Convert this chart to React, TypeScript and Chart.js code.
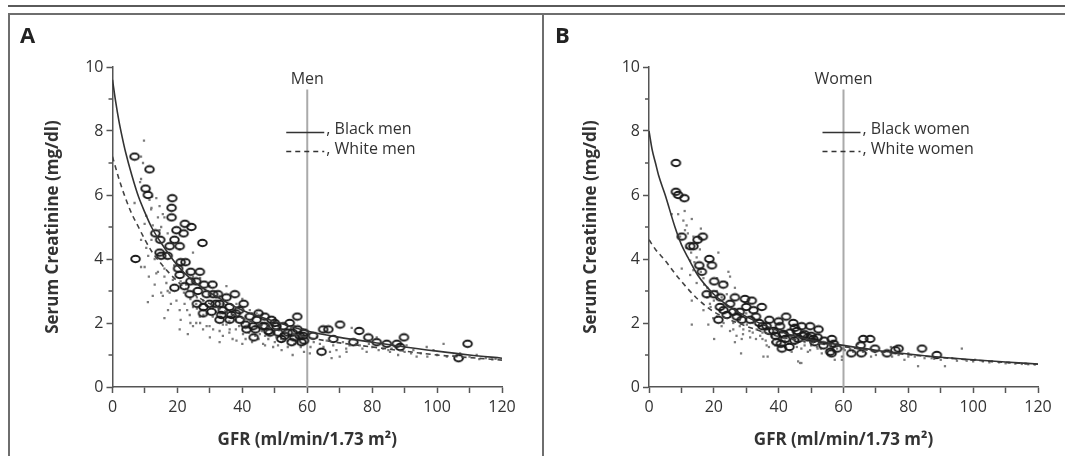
import React, { useEffect, useRef } from "react";
import { Chart, registerables } from "chart.js";
Chart.register(...registerables);

const FONT = "'Open Sans', 'Noto Sans', sans-serif";

const xTickLabels = [0, 20, 40, 60, 80, 100, 120];
const yTickLabels = [0, 2, 4, 6, 8, 10];
const yMinorTicks = [1, 3, 5, 7, 9];
const cutoffGFR = 60;
const cutoffLine: [number, number][] = [[60, 0], [60, 9.3]];

// Panel A — men
const menBlackCurve: [number, number][] = [
  [0, 9.6], [1, 8.9], [2, 8.3], [3, 7.8], [4, 7.35], [6, 6.6], [8, 5.95], [10, 5.45], [12, 5.0],
  [15, 4.5], [20, 3.8], [25, 3.3], [30, 2.95], [40, 2.4], [50, 2.05], [60, 1.75], [70, 1.55],
  [80, 1.4], [90, 1.25], [100, 1.12], [110, 1.0], [120, 0.9],
];
const menWhiteCurve: [number, number][] = [
  [0, 7.2], [2, 6.5], [4, 5.9], [6, 5.4], [8, 5.0], [10, 4.6], [12, 4.25], [15, 3.85], [20, 3.3],
  [25, 2.9], [30, 2.6], [40, 2.15], [50, 1.8], [60, 1.55], [70, 1.38], [80, 1.25], [90, 1.12],
  [100, 1.0], [110, 0.92], [120, 0.84],
];
const menBlackPoints: [number, number][] = [
  [6.8, 7.2], [11.4, 6.8], [10.2, 6.2], [10.9, 6.0], [18.4, 5.9], [18.2, 5.6], [18.2, 5.3], [22.3, 5.1],
  [24.3, 5.0], [19.7, 4.9], [21.9, 4.8], [13.2, 4.8], [14.7, 4.6], [19.1, 4.6], [17.6, 4.4], [20.7, 4.4],
  [27.7, 4.5], [7.1, 4.0], [14.5, 4.2], [15.0, 4.1], [22.5, 3.9], [20.2, 3.7], [24.1, 3.6], [26.9, 3.6],
  [20.7, 3.5], [28.2, 3.2], [30.8, 3.2], [19.1, 3.1], [23.8, 2.9], [26.3, 3.0], [32.5, 2.9], [37.7, 2.9],
  [35.1, 2.8], [40.4, 2.6], [29.9, 2.6], [31.8, 2.6], [27.9, 2.3], [30.5, 2.35], [33.5, 2.25], [36.6, 2.25],
  [33.0, 2.1], [36.1, 2.1], [39.2, 2.1], [42.3, 2.2], [44.4, 2.1], [46.9, 2.2], [49.0, 2.1], [43.3, 1.9],
  [46.4, 1.9], [50.5, 1.9], [52.6, 1.9], [54.6, 2.0], [56.9, 2.2], [55.5, 1.7], [57.7, 1.6], [58.2, 1.4],
  [55.2, 1.4], [43.5, 1.55], [48.5, 1.7], [41.3, 1.8], [25.8, 3.3], [22.2, 3.15], [64.9, 1.8], [66.5, 1.8],
  [70.1, 1.95], [76.0, 1.75], [78.8, 1.55], [89.8, 1.55], [109.4, 1.35], [64.4, 1.1], [68.0, 1.5],
  [74.2, 1.4], [84.5, 1.35], [87.6, 1.35], [88.6, 1.25], [106.6, 0.9], [58.7, 1.6], [61.8, 1.6], [81.4, 1.4],
  [26, 2.6], [28, 2.5], [29, 2.9], [31, 2.9], [34, 2.4], [38, 2.3], [41, 1.95], [44, 1.8], [45, 2.3],
  [47, 1.9], [50, 2.0], [51, 1.7], [53, 1.6], [54, 1.7], [56, 1.55], [57, 1.8], [59, 1.7], [59, 1.45],
  [24, 3.3], [21, 3.9], [17, 4.1], [33, 2.6], [36, 2.5], [39, 2.4], [52, 1.5], [48, 1.75],
];
const menWhitePoints: [number, number][] = [
  [9.7, 7.7], [8.8, 7.2], [9.4, 7.0], [8.8, 6.5], [8.5, 6.4], [11.4, 5.85], [13.5, 5.9], [14.5, 5.65],
  [11.9, 5.55], [15.5, 5.4], [10.4, 5.35], [6.8, 5.75], [9.9, 5.1], [12.4, 5.05], [14.5, 4.9], [8.8, 4.6],
  [10.4, 4.35], [8.8, 3.75], [9.9, 3.75], [11.2, 3.45], [13.5, 3.55], [13.0, 3.2], [16.0, 3.45], [16.6, 3.25],
  [15.0, 2.95], [12.4, 2.85], [10.9, 2.65], [15.5, 2.85], [17.6, 2.95], [17.1, 2.4], [16.0, 2.15], [20.7, 2.4],
  [22.2, 2.6], [23.8, 2.25], [20.7, 1.8], [23.2, 1.65], [25.8, 2.0], [24.8, 2.5], [26.9, 2.2], [29.9, 1.9],
  [33.0, 1.75], [33.0, 1.4], [36.1, 1.8], [38.2, 1.45], [40.2, 1.65], [46.4, 1.35], [49.5, 1.25], [52.1, 1.15],
  [55.5, 1.0], [50.5, 1.55], [52.6, 1.45], [25.8, 2.6], [27.9, 2.7], [19.7, 2.7], [18.6, 3.35], [22.7, 3.2],
  [24.8, 3.45], [29.9, 3.15], [33.0, 2.85], [35.1, 3.15], [38.2, 2.6], [42.3, 2.4], [44.4, 2.3], [40.2, 2.0],
  [35.1, 1.95], [30.9, 2.2], [27.9, 1.8], [24.8, 1.9], [45.4, 1.65], [48.5, 1.85], [53.6, 1.8], [56.7, 1.55],
  [58.7, 1.8], [12.2, 5.95], [14.0, 5.3], [16.0, 5.3], [20.7, 4.3], [24.8, 4.2], [32, 2.35], [34, 1.95],
  [36, 2.05], [38, 1.8], [42, 1.95], [44, 1.6], [46, 1.75], [48, 1.5], [52, 1.65], [54, 1.45], [56, 1.35],
  [58, 1.25], [35, 2.55], [40, 2.75], [45, 2.25], [50, 2.15], [55, 1.85], [28, 2.25], [26, 2.45], [24, 2.75],
  [22, 2.95], [30, 1.55], [40, 1.35], [62, 1.4], [65, 1.25], [68, 1.3], [72, 1.2], [75, 1.35], [80, 1.25],
  [85, 1.15], [90, 1.1], [95, 1.05], [100, 1.0], [105, 0.97], [110, 0.95], [115, 0.9], [118, 0.88],
  [73.7, 1.85], [81.4, 1.55], [102, 1.35], [96.8, 1.25], [92.7, 1.15], [98.9, 1.15], [60.8, 1.05],
  [69, 1.15], [78.3, 1.1], [83.4, 1.2], [72.1, 1.1], [70, 0.95], [67.5, 0.9], [93.7, 0.95], [63.9, 1.35],
  [76.2, 1.3], [85.5, 1.1], [90.6, 1.3], [107.1, 1.05], [112.2, 1.0],
  [16, 3.7], [17, 3.0], [18, 2.6], [19, 3.8], [21, 3.3], [21, 2.1], [23, 3.6], [23, 2.4], [24, 2.0],
  [25, 3.0], [26, 2.8], [27, 2.0], [27, 3.4], [28, 2.6], [29, 2.3], [29, 1.9], [31, 2.5], [31, 1.8],
  [32, 2.8], [33, 2.3], [34, 2.6], [34, 1.6], [35, 2.2], [36, 1.7], [37, 2.4], [37, 1.5], [38, 2.1],
  [39, 1.9], [39, 2.5], [41, 2.2], [41, 1.5], [42, 1.7], [43, 2.3], [43, 1.4], [44, 1.9], [45, 1.5],
  [46, 2.0], [47, 1.6], [47, 1.3], [48, 1.9], [49, 1.7], [50, 1.4], [51, 1.9], [51, 1.3], [52, 1.5],
  [53, 1.7], [54, 1.25], [55, 1.6], [56, 1.9], [57, 1.4], [58, 1.6], [59, 1.35], [59, 1.1], [61, 1.25],
  [63, 1.55], [66, 1.45], [67, 1.1], [71, 1.4], [73, 1.3], [77, 1.2], [79, 1.35], [82, 1.15], [86, 1.2],
  [88, 1.0], [92, 1.05], [97, 0.95], [103, 0.95], [108, 0.9], [113, 0.87], [117, 0.86],
  [12, 4.6], [13, 4.0], [14, 3.6], [11, 4.1], [16, 4.2], [17, 4.8], [15, 5.0], [12, 5.6],
];

// Panel B — women
const womenBlackCurve: [number, number][] = [
  [0, 8.0], [1, 7.4], [2, 7.0], [3, 6.6], [5, 6.0], [8, 5.0], [10, 4.45], [12, 4.05], [15, 3.5],
  [20, 2.9], [25, 2.5], [30, 2.2], [40, 1.75], [50, 1.47], [60, 1.3], [70, 1.15], [80, 1.03],
  [90, 0.93], [100, 0.85], [110, 0.78], [120, 0.72],
];
const womenWhiteCurve: [number, number][] = [
  [0, 4.6], [2, 4.3], [5, 3.95], [8, 3.55], [10, 3.3], [15, 2.75], [20, 2.35], [25, 2.1], [30, 1.9],
  [40, 1.58], [50, 1.4], [60, 1.26], [70, 1.12], [80, 1.01], [90, 0.92], [100, 0.84], [110, 0.77], [120, 0.71],
];
const womenBlackPoints: [number, number][] = [
  [8.3, 7.0], [8.3, 6.1], [9.0, 6.0], [10.9, 5.9], [10.1, 4.7], [15.0, 4.6], [16.6, 4.7], [12.7, 4.4],
  [13.7, 4.4], [18.6, 4.0], [19.4, 3.8], [15.5, 3.8], [16.3, 3.6], [20.1, 3.3], [22.9, 3.2], [17.8, 2.9],
  [26.5, 2.8], [29.6, 2.75], [31.7, 2.7], [34.8, 2.5], [21.9, 2.5], [25.0, 2.6], [24.0, 2.25], [21.4, 2.1],
  [27.1, 2.2], [28.6, 2.1], [31.2, 2.1], [34.0, 2.0], [37.1, 2.1], [42.3, 2.2], [44.5, 2.0], [47.1, 1.9],
  [49.7, 1.9], [52.3, 1.8], [40.4, 1.9], [38.4, 1.75], [41.5, 1.65], [43.5, 1.7], [45.6, 1.75], [47.6, 1.6],
  [39.4, 1.4], [41.0, 1.2], [50.7, 1.5], [53.8, 1.3], [56.4, 1.5], [55.9, 1.1], [36.3, 1.9], [32.2, 2.4],
  [66.1, 1.5], [68.2, 1.5], [65.3, 1.3], [62.4, 1.05], [65.5, 1.05], [69.7, 1.2], [73.4, 1.05], [76.0, 1.15],
  [77.0, 1.2], [84.2, 1.2], [88.8, 1.0], [40.7, 1.35], [44.9, 1.45], [49.0, 1.55], [51.1, 1.4], [41.3, 1.65],
  [43.3, 1.25], [56.3, 1.05],
  [23, 2.4], [26, 2.35], [28, 2.35], [30, 2.5], [33, 2.2], [35, 1.9], [37, 1.75], [39, 1.6], [42, 1.5],
  [46, 1.5], [48, 1.65], [50, 1.6], [52, 1.55], [54, 1.45], [57, 1.35], [58, 1.2], [45, 1.85], [40, 2.05],
  [22, 2.8], [20, 2.9],
];
const womenWhitePoints: [number, number][] = [
  [7.0, 5.4], [9.0, 5.4], [10.6, 5.2], [13.2, 5.25], [11.6, 5.05], [16.0, 4.95], [11.1, 4.9], [13.7, 4.7],
  [21.4, 4.2], [14.7, 4.05], [12.7, 3.95], [10.1, 3.7], [13.7, 3.65], [12.7, 3.5], [16.8, 3.4], [14.7, 3.25],
  [24.5, 3.6], [25.0, 3.45], [13.2, 2.7], [18.8, 2.6], [16.8, 2.4], [19.8, 2.15], [13.2, 1.95], [18.3, 1.95],
  [22.4, 1.9], [25.0, 1.75], [26.5, 1.4], [28.6, 1.5], [31.2, 1.55], [34.3, 1.6], [29.1, 1.8], [33.2, 1.8],
  [26.0, 2.0], [30.2, 1.95], [36.3, 1.3], [35.3, 0.95], [43.5, 1.15], [46.6, 0.75], [45.6, 1.25], [49.7, 1.15],
  [53.3, 1.05], [51.8, 1.25], [57.9, 1.35], [59.5, 0.95], [59.5, 0.85], [20.9, 3.0], [22.4, 2.8], [24.0, 3.25],
  [15.7, 4.3], [11.6, 4.35], [9.6, 4.7], [26.5, 3.1], [35, 1.5], [38, 1.4], [42, 1.45], [45, 1.35], [48, 1.3],
  [52, 1.2], [55, 1.15], [58, 1.2], [32, 1.7], [28, 1.9], [25, 2.2], [22, 2.4], [20, 2.7], [18, 3.1],
  [62, 1.2], [66, 1.1], [70, 1.0], [75, 0.95], [80, 0.95], [85, 0.9], [90, 0.85], [95, 0.82], [100, 0.8],
  [105, 0.77], [110, 0.74], [115, 0.72], [119, 0.7], [28.4, 1.05], [20.1, 1.5], [36.6, 0.95], [46.0, 0.8],
  [47.0, 0.75], [64.5, 1.35], [68.5, 0.95], [74.6, 1.25], [78.8, 0.85], [83.0, 0.65], [91.3, 0.65],
  [96.5, 1.2], [87.2, 0.9], [93.5, 0.9], [100.6, 0.85], [105.8, 0.8], [111.0, 0.76], [116.2, 0.73],
  [80.0, 1.05], [69.7, 1.1], [60.4, 1.15], [57.3, 0.85],
  [14, 3.9], [15, 4.5], [16, 3.6], [17, 3.2], [18, 2.8], [19, 2.5], [21, 2.2], [21, 3.4], [23, 2.0],
  [23, 2.6], [24, 2.9], [26, 1.8], [27, 2.4], [27, 1.6], [28, 2.1], [29, 1.65], [30, 2.3], [31, 1.75],
  [32, 2.0], [33, 1.5], [34, 1.9], [35, 1.7], [36, 1.45], [37, 1.8], [37, 1.25], [38, 1.6], [39, 1.3],
  [40, 1.5], [41, 1.7], [42, 1.25], [43, 1.4], [44, 1.55], [44, 1.1], [46, 1.45], [47, 1.2], [48, 1.4],
  [49, 1.1], [50, 1.3], [51, 1.45], [53, 1.2], [54, 1.35], [56, 1.25], [57, 1.1], [58, 1.3], [60, 1.2],
  [63, 1.1], [65, 1.2], [67, 1.05], [72, 1.1], [77, 1.0], [82, 0.95], [88, 0.88], [98, 0.82], [103, 0.8],
  [108, 0.77], [113, 0.73], [117, 0.71], [12, 4.8], [11, 5.5], [13, 4.2],
];

type PanelCfg = {
  letter: string;
  group: string;
  blackLabel: string;
  whiteLabel: string;
  blackCurve: [number, number][];
  whiteCurve: [number, number][];
  blackPoints: [number, number][];
  whitePoints: [number, number][];
  width: number;
  padLeft: number;
  padRight: number;
  yAxisWidth: number;
};

const CANVAS_H = 441;

function makeRing(): HTMLCanvasElement {
  const c = document.createElement("canvas");
  c.width = 13;
  c.height = 10;
  const g = c.getContext("2d")!;
  g.strokeStyle = "#1a1a1a";
  g.lineWidth = 1.9;
  g.beginPath();
  g.ellipse(6.5, 5, 4.3, 3.2, 0, 0, Math.PI * 2);
  g.stroke();
  return c;
}

const toXY = (arr: [number, number][]) => arr.map(([x, y]) => ({ x, y }));

function Panel({ cfg, left }: { cfg: PanelCfg; left: number }) {
  const ref = useRef<HTMLCanvasElement>(null);
  useEffect(() => {
    const ring = makeRing();
    const overlay = {
      id: "overlay" + cfg.letter,
      afterDraw(chart: any) {
        const { ctx } = chart;
        const xs = chart.scales.x;
        const ys = chart.scales.y;
        const vx = xs.getPixelForValue(cutoffGFR);
        ctx.save();
        // short minor ticks on the y axis
        ctx.strokeStyle = "#555";
        ctx.lineWidth = 1.5;
        for (const v of yMinorTicks) {
          const py = ys.getPixelForValue(v);
          ctx.beginPath();
          ctx.moveTo(ys.right - 4, py);
          ctx.lineTo(ys.right, py);
          ctx.stroke();
        }
        ctx.fillStyle = "#222";
        ctx.textAlign = "left";
        ctx.textBaseline = "alphabetic";
        ctx.font = `bold 22px ${FONT}`;
        ctx.fillText(cfg.letter, 10, 28);
        ctx.fillStyle = "#333";
        ctx.font = `16px ${FONT}`;
        ctx.textAlign = "center";
        ctx.fillText(cfg.group, vx, 69);
        ctx.textAlign = "left";
        ctx.strokeStyle = "#333";
        ctx.lineWidth = 1.5;
        ctx.beginPath();
        ctx.moveTo(vx - 21, 117.5);
        ctx.lineTo(vx + 17, 117.5);
        ctx.stroke();
        ctx.setLineDash([5, 4]);
        ctx.beginPath();
        ctx.moveTo(vx - 21, 136.5);
        ctx.lineTo(vx + 17, 136.5);
        ctx.stroke();
        ctx.setLineDash([]);
        ctx.fillText(", " + cfg.blackLabel, vx + 19, 119);
        ctx.fillText(", " + cfg.whiteLabel, vx + 19, 139);
        ctx.restore();
      },
    };
    const chart = new Chart(ref.current!, {
      type: "scatter",
      data: {
        datasets: [
          {
            type: "line",
            data: toXY(cfg.blackCurve),
            borderColor: "#333",
            borderWidth: 1.6,
            pointRadius: 0,
            cubicInterpolationMode: "monotone",
            fill: false,
          } as any,
          {
            type: "line",
            data: toXY(cfg.whiteCurve),
            borderColor: "#444",
            borderWidth: 1.6,
            borderDash: [5, 4],
            pointRadius: 0,
            cubicInterpolationMode: "monotone",
            fill: false,
          } as any,
          {
            data: toXY(cfg.blackPoints),
            pointStyle: ring,
            pointRadius: 5,
            backgroundColor: "transparent",
            borderColor: "#1a1a1a",
          } as any,
          {
            data: toXY(cfg.whitePoints),
            pointStyle: "rect",
            pointRadius: 1.6,
            backgroundColor: "#7c7c7c",
            borderWidth: 0,
          } as any,
          {
            type: "line",
            data: toXY(cutoffLine),
            borderColor: "#aaaaaa",
            borderWidth: 2,
            pointRadius: 0,
            fill: false,
          } as any,
        ],
      },
      options: {
        responsive: false,
        animation: false,
        events: [],
        layout: { padding: { left: cfg.padLeft, right: cfg.padRight, top: 52, bottom: 4 } },
        plugins: { legend: { display: false }, tooltip: { enabled: false } },
        scales: {
          x: {
            type: "linear",
            min: 0,
            max: 120,
            ticks: {
              stepSize: 10,
              autoSkip: false,
              maxRotation: 0,
              padding: 5,
              color: "#333",
              font: { family: FONT, size: 16 },
              callback: (v: any) => (xTickLabels.includes(Number(v)) ? String(v) : ""),
            },
            grid: { drawOnChartArea: false, drawTicks: true, tickLength: 6, tickColor: "#555", tickWidth: 1.5 },
            border: { display: true, color: "#555", width: 1.5 },
            title: {
              display: true,
              text: "GFR (ml/min/1.73 m²)",
              color: "#333",
              font: { family: FONT, size: 17, weight: "bold" },
              padding: { top: 0, bottom: 2 },
            },
            afterFit: (s: any) => {
              s.height = 65;
            },
          },
          y: {
            type: "linear",
            min: 0,
            max: 10,
            ticks: {
              stepSize: 1,
              autoSkip: false,
              padding: 3,
              color: "#333",
              font: { family: FONT, size: 16 },
              callback: (v: any) => (yTickLabels.includes(Number(v)) ? String(v) : ""),
            },
            grid: {
              drawOnChartArea: false,
              drawTicks: true,
              tickLength: 6,
              tickWidth: 1.5,
              tickColor: (c: any) => (c.tick && yTickLabels.includes(c.tick.value) ? "#555" : "rgba(0,0,0,0)"),
            },
            border: { display: true, color: "#555", width: 1.5 },
            title: {
              display: true,
              text: "Serum Creatinine (mg/dl)",
              color: "#333",
              font: { family: FONT, size: 17, weight: "bold" },
              padding: { top: 3, bottom: 0 },
            },
            afterFit: (s: any) => {
              s.width = cfg.yAxisWidth;
            },
          },
        },
      } as any,
      plugins: [overlay],
    });
    return () => chart.destroy();
  }, []);
  return (
    <canvas
      ref={ref}
      width={cfg.width}
      height={CANVAS_H}
      style={{ position: "absolute", left, top: 15, width: cfg.width, height: CANVAS_H }}
    />
  );
}

const panelA: PanelCfg = {
  letter: "A",
  group: "Men",
  blackLabel: "Black men",
  whiteLabel: "White men",
  blackCurve: menBlackCurve,
  whiteCurve: menWhiteCurve,
  blackPoints: menBlackPoints,
  whitePoints: menWhitePoints,
  width: 532,
  padLeft: 30,
  padRight: 40,
  yAxisWidth: 72.5,
};
const panelB: PanelCfg = {
  letter: "B",
  group: "Women",
  blackLabel: "Black women",
  whiteLabel: "White women",
  blackCurve: womenBlackCurve,
  whiteCurve: womenWhiteCurve,
  blackPoints: womenBlackPoints,
  whitePoints: womenWhitePoints,
  width: 520,
  padLeft: 33,
  padRight: 27,
  yAxisWidth: 71,
};

export default function App() {
  return (
    <div style={{ position: "absolute", left: 0, top: 0, width: 1065, height: 456, overflow: "hidden", background: "#fff" }}>
      <div style={{ position: "absolute", left: 8, top: 5, width: 1057, height: 2, background: "#5a5a5a" }} />
      <div style={{ position: "absolute", left: 8, top: 13, width: 1057, height: 2, background: "#6e6e6e" }} />
      <div style={{ position: "absolute", left: 8, top: 13, width: 2, height: 443, background: "#6e6e6e" }} />
      <div style={{ position: "absolute", left: 542, top: 13, width: 2, height: 443, background: "#6e6e6e" }} />
      <Panel cfg={panelA} left={10} />
      <Panel cfg={panelB} left={545} />
    </div>
  );
}
